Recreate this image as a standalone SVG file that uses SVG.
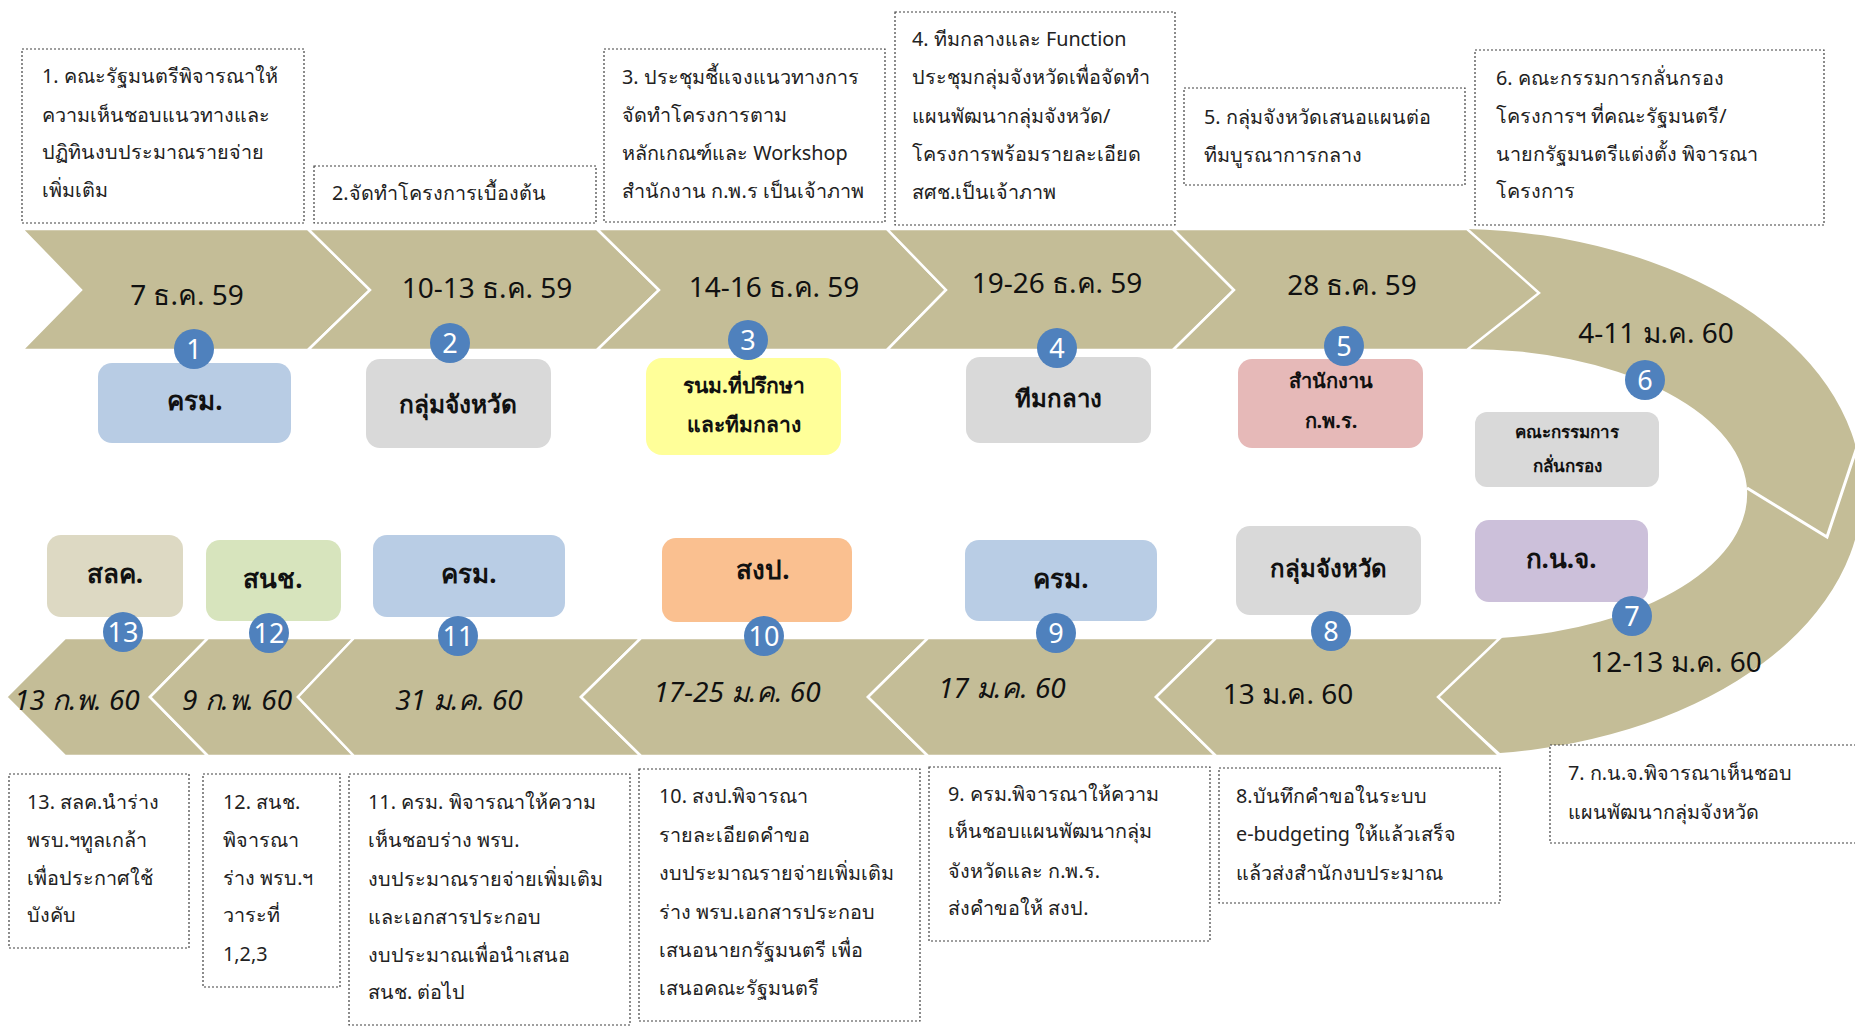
<svg xmlns="http://www.w3.org/2000/svg" width="1855" height="1031" viewBox="0 0 1855 1031">
<style>
.bg{fill:#ffffff}
.chev{fill:#c4bd97;stroke:#ffffff;stroke-width:2.5;stroke-linejoin:miter}
.ring{fill:#c4bd97}
.div{fill:none;stroke:#ffffff;stroke-width:3}
.note{fill:#ffffff;stroke:#404040;stroke-width:1.2;stroke-dasharray:2 2}
.nt{font-family:"Noto Sans","DejaVu Sans",sans-serif;font-size:19.8px;fill:#222222}
.date{font-family:"Noto Sans","DejaVu Sans",sans-serif;font-size:28px;fill:#111111;text-anchor:middle}
.it{font-style:italic}
.num{fill:#4f81bd}
.nnum{font-family:"Noto Sans","DejaVu Sans",sans-serif;font-size:27px;fill:#ffffff;text-anchor:middle}
.lab{font-family:"Noto Sans","DejaVu Sans",sans-serif;font-size:26px;font-weight:bold;fill:#111111;text-anchor:middle}
.labs{font-family:"Noto Sans","DejaVu Sans",sans-serif;font-size:20px;font-weight:bold;fill:#111111;text-anchor:middle}
</style>
<rect class="bg" x="0" y="0" width="1855" height="1031"/>

<g id="connectors">
  <path class="ring" d="M1467,229 A410,263 0 0 1 1500,753 L1438,697 L1500,638 A280,145 0 0 0 1467,349 Z"/>
  <polyline class="div" points="1747,488 1827,537 1866,420"/>
  <polygon class="chev" points="22,229 308,229 370,290 308,350 22,350 81,290"/>
  <polygon class="chev" points="308,229 597,229 659,290 597,350 308,350 370,290"/>
  <polygon class="chev" points="597,229 887,229 946,290 887,350 597,350 659,290"/>
  <polygon class="chev" points="887,229 1173,229 1234,290 1173,350 887,350 946,290"/>
  <polygon class="chev" points="1173,229 1467,229 1539,293 1467,350 1173,350 1234,290"/>
  <polygon class="chev" points="6,697 65,638 208,638 150,697 208,756 65,756"/>
  <polygon class="chev" points="150,697 208,638 354,638 298,697 354,756 208,756"/>
  <polygon class="chev" points="298,697 354,638 641,638 581,697 641,756 354,756"/>
  <polygon class="chev" points="581,697 641,638 928,638 868,697 928,756 641,756"/>
  <polygon class="chev" points="868,697 928,638 1216,638 1156,697 1216,756 928,756"/>
  <polygon class="chev" points="1156,697 1216,638 1500,638 1438,697 1500,756 1216,756"/>
</g>

<g id="dates">
  <text class="date" x="187" y="305">7 ธ.ค. 59</text>
  <text class="date" x="487" y="298">10-13 ธ.ค. 59</text>
  <text class="date" x="774" y="297">14-16 ธ.ค. 59</text>
  <text class="date" x="1057" y="293">19-26 ธ.ค. 59</text>
  <text class="date" x="1352" y="295">28 ธ.ค. 59</text>
  <text class="date" x="1656" y="343">4-11 ม.ค. 60</text>
  <text class="date" x="1676" y="672">12-13 ม.ค. 60</text>
  <text class="date" x="1288" y="704">13 ม.ค. 60</text>
  <text class="date it" x="1002" y="698">17 ม.ค. 60</text>
  <text class="date it" x="737" y="702">17-25 ม.ค. 60</text>
  <text class="date it" x="459" y="710">31 ม.ค. 60</text>
  <text class="date it" x="237" y="710">9 ก.พ. 60</text>
  <text class="date it" x="77" y="710">13 ก.พ. 60</text>
</g>

<g id="node1"><rect x="98" y="363" width="193" height="80" rx="14" fill="#b8cce4"/><text class="lab" x="195" y="410">ครม.</text></g>
<g id="node2"><rect x="366" y="359" width="185" height="89" rx="14" fill="#d9d9d9"/><text class="lab" style="font-size:24.5px" x="458" y="413">กลุ่มจังหวัด</text></g>
<g id="node3"><rect x="646" y="358" width="195" height="97" rx="16" fill="#ffff99"/><text class="lab" style="font-size:21px" x="744" y="393">รนม.ที่ปรึกษา</text><text class="lab" style="font-size:21px" x="744" y="432">และทีมกลาง</text></g>
<g id="node4"><rect x="966" y="357" width="185" height="86" rx="14" fill="#d9d9d9"/><text class="lab" style="font-size:24px" x="1058" y="407">ทีมกลาง</text></g>
<g id="node5"><rect x="1238" y="359" width="185" height="89" rx="14" fill="#e6b9b8"/><text class="labs" x="1331" y="388">สำนักงาน</text><text class="labs" x="1331" y="428">ก.พ.ร.</text></g>
<g id="node6"><rect x="1475" y="412" width="184" height="75" rx="12" fill="#d9d9d9"/><text class="labs" style="font-size:17px" x="1567" y="438">คณะกรรมการ</text><text class="labs" style="font-size:17px" x="1567" y="472">กลั่นกรอง</text></g>
<g id="node7"><rect x="1475" y="520" width="173" height="82" rx="14" fill="#ccc0da"/><text class="lab" x="1561" y="568">ก.น.จ.</text></g>
<g id="node8"><rect x="1236" y="526" width="185" height="89" rx="14" fill="#d9d9d9"/><text class="lab" style="font-size:24px" x="1328" y="577">กลุ่มจังหวัด</text></g>
<g id="node9"><rect x="965" y="540" width="192" height="81" rx="14" fill="#b9cde5"/><text class="lab" x="1061" y="588">ครม.</text></g>
<g id="node10"><rect x="662" y="538" width="190" height="84" rx="14" fill="#fac090"/><text class="lab" x="763" y="579">สงป.</text></g>
<g id="node11"><rect x="373" y="535" width="192" height="82" rx="14" fill="#b9cde5"/><text class="lab" x="469" y="583">ครม.</text></g>
<g id="node12"><rect x="206" y="540" width="135" height="81" rx="14" fill="#d7e4bd"/><text class="lab" x="273" y="588">สนช.</text></g>
<g id="node13"><rect x="47" y="535" width="136" height="82" rx="14" fill="#ddd9c3"/><text class="lab" x="115" y="583">สลค.</text></g>

<g id="badges">
  <circle class="num" cx="194" cy="349" r="20"/><text class="nnum" x="194" y="359">1</text>
  <circle class="num" cx="450" cy="343" r="20"/><text class="nnum" x="450" y="353">2</text>
  <circle class="num" cx="748" cy="340" r="20"/><text class="nnum" x="748" y="350">3</text>
  <circle class="num" cx="1057" cy="348" r="20"/><text class="nnum" x="1057" y="358">4</text>
  <circle class="num" cx="1344" cy="346" r="20"/><text class="nnum" x="1344" y="356">5</text>
  <circle class="num" cx="1645" cy="380" r="20"/><text class="nnum" x="1645" y="390">6</text>
  <circle class="num" cx="1632" cy="616" r="20"/><text class="nnum" x="1632" y="626">7</text>
  <circle class="num" cx="1331" cy="631" r="20"/><text class="nnum" x="1331" y="641">8</text>
  <circle class="num" cx="1056" cy="633" r="20"/><text class="nnum" x="1056" y="643">9</text>
  <circle class="num" cx="764" cy="636" r="20"/><text class="nnum" x="764" y="646">10</text>
  <circle class="num" cx="458" cy="636" r="20"/><text class="nnum" x="458" y="646">11</text>
  <circle class="num" cx="269" cy="633" r="20"/><text class="nnum" x="269" y="643">12</text>
  <circle class="num" cx="123" cy="632" r="20"/><text class="nnum" x="123" y="642">13</text>
</g>

<g id="note1"><rect class="note" x="22" y="49" width="282" height="174"/>
  <text class="nt" x="42" y="83">1. คณะรัฐมนตรีพิจารณาให้</text>
  <text class="nt" x="42" y="122">ความเห็นชอบแนวทางและ</text>
  <text class="nt" x="42" y="159">ปฏิทินงบประมาณรายจ่าย</text>
  <text class="nt" x="42" y="197">เพิ่มเติม</text></g>
<g id="note2"><rect class="note" x="314" y="166" width="282" height="57"/>
  <text class="nt" x="332" y="200">2.จัดทำโครงการเบื้องต้น</text></g>
<g id="note3"><rect class="note" x="604" y="49" width="281" height="173"/>
  <text class="nt" x="622" y="84">3. ประชุมชี้แจงแนวทางการ</text>
  <text class="nt" x="622" y="122">จัดทำโครงการตาม</text>
  <text class="nt" x="622" y="160">หลักเกณฑ์และ Workshop</text>
  <text class="nt" x="622" y="198">สำนักงาน ก.พ.ร เป็นเจ้าภาพ</text></g>
<g id="note4"><rect class="note" x="895" y="12" width="280" height="213"/>
  <text class="nt" x="912" y="46">4. ทีมกลางและ Function</text>
  <text class="nt" x="912" y="84">ประชุมกลุ่มจังหวัดเพื่อจัดทำ</text>
  <text class="nt" x="912" y="123">แผนพัฒนากลุ่มจังหวัด/</text>
  <text class="nt" x="912" y="161">โครงการพร้อมรายละเอียด</text>
  <text class="nt" x="912" y="199">สศช.เป็นเจ้าภาพ</text></g>
<g id="note5"><rect class="note" x="1184" y="88" width="281" height="97"/>
  <text class="nt" x="1204" y="124">5. กลุ่มจังหวัดเสนอแผนต่อ</text>
  <text class="nt" x="1204" y="162">ทีมบูรณาการกลาง</text></g>
<g id="note6"><rect class="note" x="1475" y="50" width="349" height="175"/>
  <text class="nt" x="1496" y="85">6. คณะกรรมการกลั่นกรอง</text>
  <text class="nt" x="1496" y="123">โครงการฯ ที่คณะรัฐมนตรี/</text>
  <text class="nt" x="1496" y="161">นายกรัฐมนตรีแต่งตั้ง พิจารณา</text>
  <text class="nt" x="1496" y="198">โครงการ</text></g>
<g id="note7"><rect class="note" x="1550" y="745" width="320" height="98"/>
  <text class="nt" x="1568" y="780">7. ก.น.จ.พิจารณาเห็นชอบ</text>
  <text class="nt" x="1568" y="819">แผนพัฒนากลุ่มจังหวัด</text></g>
<g id="note8"><rect class="note" x="1219" y="768" width="281" height="135"/>
  <text class="nt" x="1236" y="803">8.บันทึกคำขอในระบบ</text>
  <text class="nt" x="1236" y="841">e-budgeting ให้แล้วเสร็จ</text>
  <text class="nt" x="1236" y="880">แล้วส่งสำนักงบประมาณ</text></g>
<g id="note9"><rect class="note" x="929" y="767" width="281" height="174"/>
  <text class="nt" x="948" y="801">9. ครม.พิจารณาให้ความ</text>
  <text class="nt" x="948" y="838">เห็นชอบแผนพัฒนากลุ่ม</text>
  <text class="nt" x="948" y="878">จังหวัดและ ก.พ.ร.</text>
  <text class="nt" x="948" y="915">ส่งคำขอให้ สงป.</text></g>
<g id="note10"><rect class="note" x="639" y="769" width="281" height="252"/>
  <text class="nt" x="659" y="803">10. สงป.พิจารณา</text>
  <text class="nt" x="659" y="842">รายละเอียดคำขอ</text>
  <text class="nt" x="659" y="880">งบประมาณรายจ่ายเพิ่มเติม</text>
  <text class="nt" x="659" y="919">ร่าง พรบ.เอกสารประกอบ</text>
  <text class="nt" x="659" y="957">เสนอนายกรัฐมนตรี เพื่อ</text>
  <text class="nt" x="659" y="995">เสนอคณะรัฐมนตรี</text></g>
<g id="note11"><rect class="note" x="349" y="774" width="281" height="251"/>
  <text class="nt" x="368" y="809">11. ครม. พิจารณาให้ความ</text>
  <text class="nt" x="368" y="847">เห็นชอบร่าง พรบ.</text>
  <text class="nt" x="368" y="886">งบประมาณรายจ่ายเพิ่มเติม</text>
  <text class="nt" x="368" y="924">และเอกสารประกอบ</text>
  <text class="nt" x="368" y="962">งบประมาณเพื่อนำเสนอ</text>
  <text class="nt" x="368" y="999">สนช. ต่อไป</text></g>
<g id="note12"><rect class="note" x="203" y="774" width="137" height="213"/>
  <text class="nt" x="223" y="809">12. สนช.</text>
  <text class="nt" x="223" y="847">พิจารณา</text>
  <text class="nt" x="223" y="885">ร่าง พรบ.ฯ</text>
  <text class="nt" x="223" y="922">วาระที่</text>
  <text class="nt" x="223" y="961">1,2,3</text></g>
<g id="note13"><rect class="note" x="9" y="774" width="180" height="174"/>
  <text class="nt" x="27" y="809">13. สลค.นำร่าง</text>
  <text class="nt" x="27" y="847">พรบ.ฯทูลเกล้า</text>
  <text class="nt" x="27" y="885">เพื่อประกาศใช้</text>
  <text class="nt" x="27" y="922">บังคับ</text></g>
</svg>
